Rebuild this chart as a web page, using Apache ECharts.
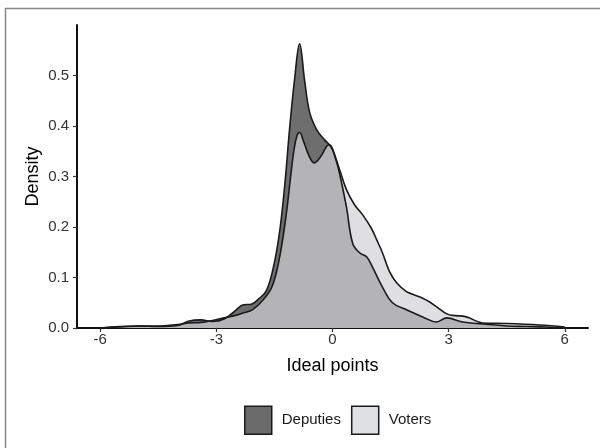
<!DOCTYPE html>
<html>
<head>
<meta charset="utf-8">
<script src="https://cdn.jsdelivr.net/npm/echarts@6/dist/echarts.min.js"></script>
<style>html,body{margin:0;padding:0;background:#fff}#c{width:600px;height:448px}</style>
</head>
<body>
<div id="c"></div>
<script>
const seriesNames = ['Deputies', 'Voters'];
const xTicks = [-6, -3, 0, 3, 6];
const yTicks = [0, 0.1, 0.2, 0.3, 0.4, 0.5];
const deputiesX = [-6, -5.5, -5, -4.5, -4, -3.7, -3.4, -3.1, -2.8, -2.5, -2.3, -2.1, -1.9, -1.7, -1.5, -1.35, -1.22, -1.11, -0.98, -0.85, -0.72, -0.59, -0.41, -0.21, -0.08, 0, 0.1, 0.18, 0.36, 0.52, 0.7, 0.88, 1.03, 1.29, 1.55, 1.91, 2.33, 2.69, 2.95, 3.36, 3.88, 4.5, 5, 5.5, 6];
const deputiesY = [0, 0.003, 0.004, 0.003, 0.005, 0.014, 0.016, 0.013, 0.018, 0.035, 0.046, 0.047, 0.058, 0.075, 0.13, 0.2, 0.294, 0.393, 0.492, 0.563, 0.49, 0.427, 0.393, 0.373, 0.363, 0.353, 0.33, 0.307, 0.24, 0.168, 0.149, 0.141, 0.121, 0.081, 0.05, 0.036, 0.022, 0.012, 0.02, 0.012, 0.008, 0.004, 0.003, 0.002, 0];
const votersX = [-6, -5.5, -5, -4.5, -4, -3.7, -3.4, -3.1, -2.8, -2.5, -2.3, -2.07, -1.8, -1.58, -1.45, -1.32, -1.19, -1.09, -1, -0.92, -0.85, -0.75, -0.6, -0.47, -0.3, -0.15, -0.08, 0, 0.1, 0.2, 0.36, 0.57, 0.78, 1, 1.14, 1.29, 1.47, 1.65, 1.91, 2.07, 2.33, 2.5, 2.69, 2.95, 3.1, 3.46, 3.88, 4.5, 5.35, 6];
const votersY = [0, 0.002, 0.004, 0.004, 0.007, 0.01, 0.011, 0.015, 0.02, 0.025, 0.03, 0.036, 0.055, 0.079, 0.11, 0.16, 0.228, 0.294, 0.35, 0.38, 0.387, 0.37, 0.34, 0.327, 0.34, 0.36, 0.363, 0.355, 0.333, 0.31, 0.274, 0.244, 0.224, 0.198, 0.175, 0.149, 0.112, 0.09, 0.072, 0.067, 0.059, 0.052, 0.042, 0.028, 0.025, 0.022, 0.01, 0.009, 0.006, 0.002];

const zip = (xs, ys) => xs.map((x, i) => [x, ys[i]]);
const font = 'Liberation Sans, Arial, sans-serif';
const chart = echarts.init(document.getElementById('c'), null, {renderer: 'canvas'});
chart.setOption({
  animation: false,
  backgroundColor: '#fff',
  graphic: [{
    type: 'rect', shape: {x: 5.5, y: 8.5, width: 700, height: 600},
    style: {fill: 'none', stroke: '#888', lineWidth: 1.5}, silent: true
  }],
  grid: {left: 77, right: 12, top: 25, bottom: 120},
  legend: {
    bottom: 8, left: 239, itemWidth: 27, itemHeight: 28, itemGap: 10,
    icon: 'rect',
    textStyle: {fontFamily: font, fontSize: 15, color: '#1a1a1a', padding: [0, 0, 0, 5]},
    data: [
      {name: seriesNames[0], itemStyle: {color: '#6b6b6b', borderColor: '#1a1a1a', borderWidth: 1.5}},
      {name: seriesNames[1], itemStyle: {color: '#dfe0e2', borderColor: '#1a1a1a', borderWidth: 1.5}}
    ]
  },
  xAxis: {
    type: 'value', min: -6.6, max: 6.6,
    name: 'Ideal points', nameLocation: 'middle', nameGap: 29,
    nameTextStyle: {fontFamily: font, fontSize: 18, color: '#000'},
    axisLine: {show: true, onZero: false, lineStyle: {color: '#111', width: 2}},
    axisTick: {show: true, length: 4, lineStyle: {color: '#333', width: 1.2}, customValues: xTicks},
    axisLabel: {fontFamily: font, fontSize: 15, color: '#333', margin: 4, customValues: xTicks},
    splitLine: {show: false}
  },
  yAxis: {
    type: 'value', min: 0, max: 0.6,
    name: 'Density', nameLocation: 'middle', nameGap: 35, nameMoveOverlap: false,
    nameTextStyle: {fontFamily: font, fontSize: 18, color: '#000'},
    axisLine: {show: true, onZero: false, lineStyle: {color: '#111', width: 2}},
    axisTick: {show: true, length: 4, lineStyle: {color: '#333', width: 1.2}, customValues: yTicks},
    axisLabel: {fontFamily: font, fontSize: 15, color: '#333', margin: 8, customValues: yTicks,
      formatter: v => v.toFixed(1)},
    splitLine: {show: false}
  },
  series: [
    {
      name: seriesNames[0], type: 'line', smooth: 0.4, symbol: 'none',
      data: zip(deputiesX, deputiesY),
      itemStyle: {color: '#6b6b6b'},
      lineStyle: {color: '#1a1a1a', width: 1.6},
      areaStyle: {color: '#6e6e6e', opacity: 1}
    },
    {
      name: seriesNames[1], type: 'line', smooth: 0.4, symbol: 'none',
      data: zip(votersX, votersY),
      itemStyle: {color: '#dfe0e2'},
      lineStyle: {color: '#1a1a1a', width: 1.6},
      areaStyle: {color: 'rgb(209,210,213)', opacity: 0.7}
    }
  ]
});
</script>
</body>
</html>
